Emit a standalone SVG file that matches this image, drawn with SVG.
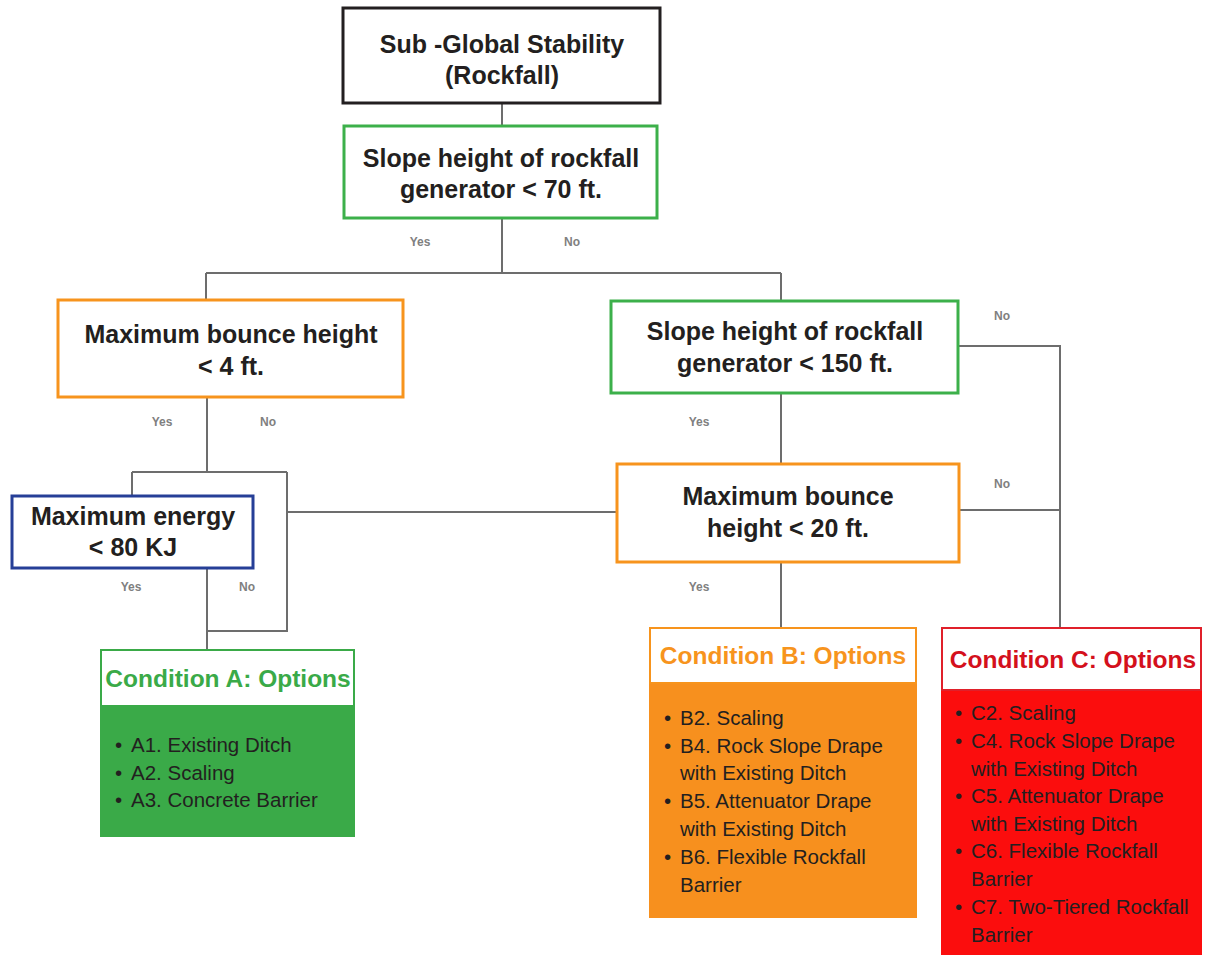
<svg xmlns="http://www.w3.org/2000/svg" width="1211" height="957" viewBox="0 0 1211 957">
<style>
.node{fill:#fff;stroke-width:3}
.t{font-family:"Liberation Sans",Arial,sans-serif;font-weight:bold;font-size:25px;fill:#231f20;text-anchor:middle}
.h{font-family:"Liberation Sans",Arial,sans-serif;font-weight:bold;font-size:24.5px;text-anchor:middle}
.lbl{font-family:"Liberation Sans",Arial,sans-serif;font-weight:bold;font-size:12px;fill:#808080;text-anchor:middle}
.item{font-family:"Liberation Sans",Arial,sans-serif;font-size:20.5px;fill:#231f20}
.conn{stroke:#6d6d6d;stroke-width:2;fill:none}
</style>
<rect width="1211" height="957" fill="#fff"/>
<g id="connectors" class="conn">
<path d="M502,103V126"/>
<path d="M502,218V273M206,273H781M206,273V300M781,273V301"/>
<path d="M207,397V472M132,472H287M132,472V495M287,472V631H207M207,568V649"/>
<path d="M287,512H617"/>
<path d="M781,393V464"/>
<path d="M958,346H1060V627"/>
<path d="M959,510H1060"/>
<path d="M781,562V627"/>
</g>
<g id="labels">
<text class="lbl" x="420" y="246">Yes</text>
<text class="lbl" x="572" y="246">No</text>
<text class="lbl" x="162" y="426">Yes</text>
<text class="lbl" x="268" y="426">No</text>
<text class="lbl" x="699" y="426">Yes</text>
<text class="lbl" x="1002" y="320">No</text>
<text class="lbl" x="1002" y="488">No</text>
<text class="lbl" x="131" y="591">Yes</text>
<text class="lbl" x="247" y="591">No</text>
<text class="lbl" x="699" y="591">Yes</text>
</g>
<g id="n1">
<rect class="node" x="343" y="8" width="317" height="95" stroke="#231f20" stroke-width="4"/>
<text class="t" x="502" y="53">Sub -Global Stability</text>
<text class="t" x="502" y="84">(Rockfall)</text>
</g>
<g id="n2">
<rect class="node" x="344" y="126" width="313" height="92" stroke="#3cb04a"/>
<text class="t" x="501" y="167">Slope height of rockfall</text>
<text class="t" x="501" y="198">generator &lt; 70 ft.</text>
</g>
<g id="n3">
<rect class="node" x="58" y="300" width="345" height="97" stroke="#f7941d"/>
<text class="t" x="231" y="343">Maximum bounce height</text>
<text class="t" x="231" y="375">&lt; 4 ft.</text>
</g>
<g id="n4">
<rect class="node" x="611" y="301" width="347" height="92" stroke="#3cb04a"/>
<text class="t" x="785" y="340">Slope height of rockfall</text>
<text class="t" x="785" y="372">generator &lt; 150 ft.</text>
</g>
<g id="n5">
<rect class="node" x="12" y="496" width="241" height="72" stroke="#263f97"/>
<text class="t" x="133" y="525">Maximum energy</text>
<text class="t" x="133" y="556">&lt; 80 KJ</text>
</g>
<g id="n6">
<rect class="node" x="617" y="464" width="342" height="98" stroke="#f7941d"/>
<text class="t" x="788" y="505">Maximum bounce</text>
<text class="t" x="788" y="537">height &lt; 20 ft.</text>
</g>
<g id="condA">
<rect x="100" y="706" width="255" height="131" fill="#3aaa48"/>
<rect x="101" y="650" width="253" height="56" fill="#fff" stroke="#3aaa48" stroke-width="2"/>
<text class="h" x="228" y="687" fill="#3aaa48">Condition A: Options</text>
<g class="item">
<text x="115" y="752">•</text><text x="131" y="752">A1. Existing Ditch</text>
<text x="115" y="780">•</text><text x="131" y="780">A2. Scaling</text>
<text x="115" y="807">•</text><text x="131" y="807">A3. Concrete Barrier</text>
</g>
</g>
<g id="condB">
<rect x="649" y="683" width="268" height="235" fill="#f7901e"/>
<rect x="650" y="628" width="266" height="55" fill="#fff" stroke="#f7941d" stroke-width="2"/>
<text class="h" x="783" y="664" fill="#f7941d">Condition B: Options</text>
<g class="item">
<text x="664" y="725">•</text><text x="680" y="725">B2. Scaling</text>
<text x="664" y="753">•</text><text x="680" y="753">B4. Rock Slope Drape</text>
<text x="680" y="780">with Existing Ditch</text>
<text x="664" y="808">•</text><text x="680" y="808">B5. Attenuator Drape</text>
<text x="680" y="836">with Existing Ditch</text>
<text x="664" y="864">•</text><text x="680" y="864">B6. Flexible Rockfall</text>
<text x="680" y="892">Barrier</text>
</g>
</g>
<g id="condC">
<rect x="941" y="690" width="261" height="265" fill="#fb0d0d"/>
<rect x="942" y="628" width="259" height="62" fill="#fff" stroke="#e0202a" stroke-width="2"/>
<text class="h" x="1073" y="668" fill="#d4101c">Condition C: Options</text>
<g class="item">
<text x="955" y="720">•</text><text x="971" y="720">C2. Scaling</text>
<text x="955" y="748">•</text><text x="971" y="748">C4. Rock Slope Drape</text>
<text x="971" y="776">with Existing Ditch</text>
<text x="955" y="803">•</text><text x="971" y="803">C5. Attenuator Drape</text>
<text x="971" y="831">with Existing Ditch</text>
<text x="955" y="858">•</text><text x="971" y="858">C6. Flexible Rockfall</text>
<text x="971" y="886">Barrier</text>
<text x="955" y="914">•</text><text x="971" y="914">C7. Two-Tiered Rockfall</text>
<text x="971" y="942">Barrier</text>
</g>
</g>
</svg>
